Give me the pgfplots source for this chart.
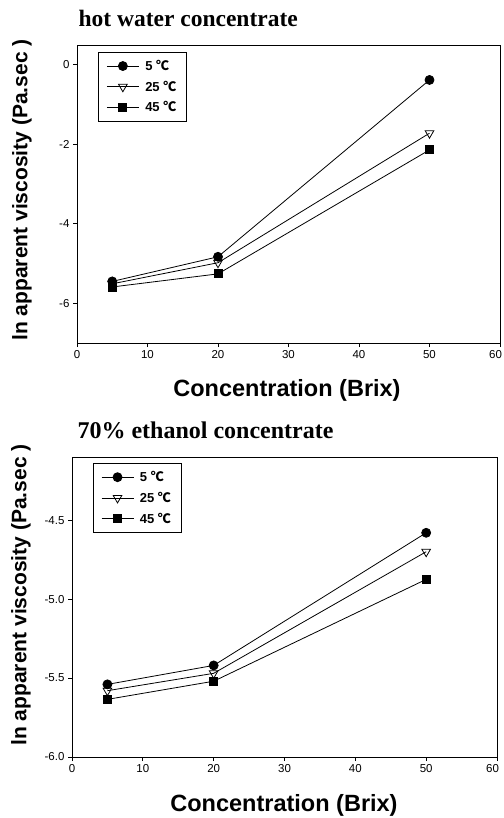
\documentclass[border=0pt]{standalone}
\usepackage{pgfplots}
\pgfplotsset{compat=1.18}
\usepackage{fontspec}
\setmainfont{Liberation Sans}
\newfontfamily\titlefont{Liberation Serif}
\newfontfamily\cjk{Noto Sans CJK KR}
\newcommand{\degc}{{\cjk ℃}}

\pgfplotsset{
  vischart/.style={
    scale only axis, xmin=0, xmax=60, xtick={0,10,...,60},
    xticklabels={0,10,20,30,40,50,\makebox[4pt][r]{60}},
    tick pos=left, tick align=outside, major tick length=4pt,
    axis line style={line width=0.9pt},
    every tick/.style={black, line width=0.8pt},
    tick label style={font=\fontsize{11.5}{13}\selectfont},
    /pgf/number format/assume math mode=true,
    legend cell align=left,
    legend style={draw=black, line width=0.6pt,
      font=\fontsize{13}{15}\bfseries\selectfont,
      inner xsep=8pt, inner ysep=6pt, row sep=5pt, anchor=north west},
    legend image code/.code={\draw[mark repeat=2,mark phase=2,##1]
      plot coordinates {(0pt,0pt) (16pt,0pt) (32pt,0pt)};
      \path (36pt,0pt);},
  },
  s5/.style={black, line width=0.8pt, mark=*, mark size=4.5pt, mark options={fill=black}},
  s25/.style={black, line width=0.8pt, mark=triangle, mark size=5pt, mark options={fill=white, rotate=180}},
  s45/.style={black, line width=0.8pt, mark=square*, mark size=4pt, mark options={fill=black}},
}

\begin{document}
\begin{tikzpicture}[x=1pt,y=1pt]
\path[use as bounding box] (0,0) rectangle (503,-818);

% hot water
\node[anchor=base west, font=\titlefont\bfseries\fontsize{23.5}{26}\selectfont] at (75,-27) {hot water concentrate};
\begin{axis}[vischart, at={(77pt,-343pt)}, anchor=south west, width=423pt, height=298pt,
  ymin=-7, ymax=0.5, ytick={-6,-4,-2,0},
  legend style={at={(0.05,0.977)}}]
  \addplot[s5]  coordinates {(5,-5.45) (20,-4.83) (50,-0.38)};
  \addplot[s25] coordinates {(5,-5.51) (20,-4.98) (50,-1.72)};
  \addplot[s45] coordinates {(5,-5.59) (20,-5.26) (50,-2.14)};
  \legend{5\ \degc, 25\ \degc, 45\ \degc}
\end{axis}
\node[rotate=90, font=\bfseries\fontsize{21}{24}\selectfont] at (22,-190) {ln apparent viscosity (Pa.sec )};
\node[font=\bfseries\fontsize{23.5}{26}\selectfont] at (287,-390) {Concentration (Brix)};

% 70% ethanol
\node[anchor=base west, font=\titlefont\bfseries\fontsize{24}{27}\selectfont] at (74,-438) {70\% ethanol concentrate};
\begin{axis}[vischart, at={(72pt,-757pt)}, anchor=south west, width=425pt, height=300pt,
  ymin=-6, ymax=-4.1, ytick={-6,-5.5,-5,-4.5},
  yticklabel style={/pgf/number format/.cd, fixed, fixed zerofill, precision=1},
  legend style={at={(0.049,0.98)}}]
  \addplot[s5]  coordinates {(5,-5.54) (20,-5.42) (50,-4.58)};
  \addplot[s25] coordinates {(5,-5.58) (20,-5.47) (50,-4.70)};
  \addplot[s45] coordinates {(5,-5.635) (20,-5.52) (50,-4.875)};
  \legend{5\ \degc, 25\ \degc, 45\ \degc}
\end{axis}
\node[rotate=90, font=\bfseries\fontsize{21}{24}\selectfont] at (21,-595) {ln apparent viscosity (Pa.sec )};
\node[font=\bfseries\fontsize{23.5}{26}\selectfont] at (284,-805) {Concentration (Brix)};
\end{tikzpicture}
\end{document}
